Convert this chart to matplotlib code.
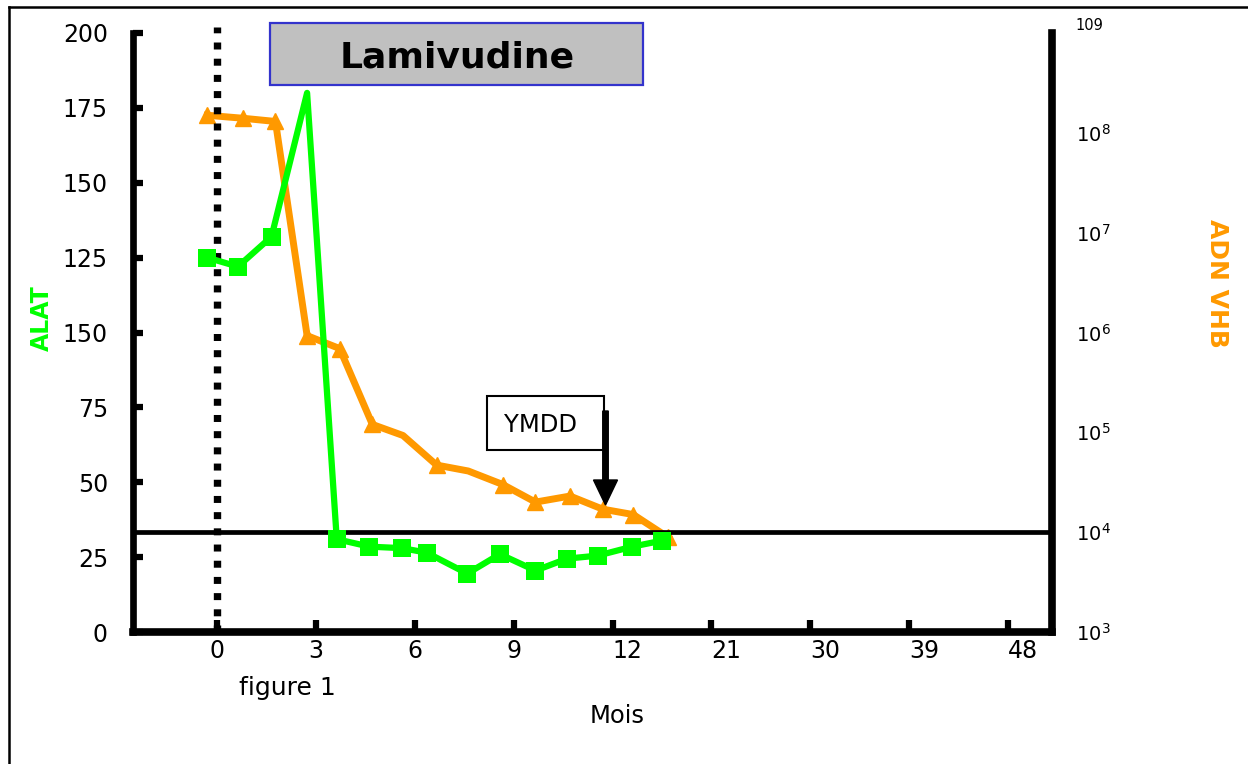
import matplotlib
matplotlib.use("Agg")
import matplotlib.pyplot as plt
import matplotlib.transforms as mtransforms
from matplotlib.patches import Rectangle, FancyArrow
from matplotlib.lines import Line2D
from matplotlib.ticker import NullLocator

# ---------------- data ----------------
month_labels = ["0", "3", "6", "9", "12", "21", "30", "39", "48"]
alat_ticks = [0, 25, 50, 75, 100, 125, 150, 175, 200]
alat_tick_labels = ["0", "25", "50", "75", "150", "125", "150", "175", "200"]
dna_ticks = [1e3, 1e4, 1e5, 1e6, 1e7, 1e8, 1e9]
dna_tick_labels = ["$10^{3}$", "$10^{4}$", "$10^{5}$", "$10^{6}$",
                   "$10^{7}$", "$10^{8}$", "109"]

# x positions on the month scale (in tick slots: 0 -> "0", 1 -> "3", ...)
alat_x = [-0.10, 0.21, 0.55, 0.91, 1.21, 1.54, 1.87, 2.12, 2.53, 2.86,
          3.22, 3.54, 3.85, 4.20, 4.50]
alat_values = [125, 122, 132, 180, 31, 28.5, 28, 26.5, 19.5, 26,
               20.5, 24.5, 25.5, 28.5, 30.5]
alat_marker_idx = [0, 1, 2, 4, 5, 6, 7, 8, 9, 10, 11, 12, 13, 14]

dna_x = [-0.10, 0.26, 0.59, 0.91, 1.24, 1.57, 1.88, 2.22, 2.54, 2.89,
         3.22, 3.57, 3.90, 4.21, 4.56]
dna_values = [1.5e8, 1.4e8, 1.3e8, 9.3e5, 6.9e5, 1.2e5, 9.3e4, 4.7e4,
              4.1e4, 3.0e4, 2.0e4, 2.3e4, 1.7e4, 1.5e4, 8.9e3]
dna_marker_idx = [0, 1, 2, 3, 4, 5, 7, 9, 10, 11, 12, 13, 14]

threshold = 1e4
lamivudine_start = 0

GREEN = "#00FF00"
ORANGE = "#FF9900"

W, H = 1248, 764
fig = plt.figure(figsize=(W / 100, H / 100), dpi=100)
plt.rcParams["font.family"] = ["DejaVu Sans"]


def fx(px):
    return px / W


def fy(py):
    return 1 - py / H


ax = fig.add_axes([fx(133), fy(632), fx(1052) - fx(133), fy(33) - fy(632)])
ax2 = ax.twinx()
ax.set_zorder(3)
ax.patch.set_visible(False)

# ---- right (log) axis: DNA ----
ax2.set_yscale("log")
ax2.set_ylim(1e3, 1e9)
ax2.plot(dna_x, dna_values, color=ORANGE, lw=5, marker="^", ms=12,
         markevery=dna_marker_idx, solid_joinstyle="round", zorder=3)
ax2.axhline(threshold, color="black", lw=3.4, zorder=4)
ax2.set_yticks(dna_ticks)
labs = ax2.set_yticklabels(dna_tick_labels, fontsize=14)
labs[-1].set_fontsize(10.5)
labs[-1].set_va("bottom")
ax2.yaxis.set_minor_locator(NullLocator())
ax2.tick_params(axis="y", length=0, pad=17)
for s in ["top", "left", "bottom"]:
    ax2.spines[s].set_visible(False)
ax2.spines["right"].set_linewidth(5.5)
ax2.set_ylabel("ADN VHB", color=ORANGE, fontsize=18, fontweight="bold",
               rotation=270)
ax2.yaxis.set_label_coords((1217 - 133) / 919, (632 - 283) / 599)
ax2.yaxis.label.set_va("center")
ax2.yaxis.label.set_ha("center")

# ---- left axis: ALAT ----
ax.plot(alat_x, alat_values, color=GREEN, lw=4.5, marker="s", ms=13,
        mew=0, markevery=alat_marker_idx, solid_joinstyle="round", zorder=3)
ax.axvline(lamivudine_start, ymin=0, ymax=1.01, color="black", lw=5.3,
           dashes=(0.95, 1.25), clip_on=False, zorder=2)
ax.set_xlim(-0.851, 8.445)
ax.set_ylim(0, 200)
ax.set_yticks(alat_ticks)
ax.set_yticklabels(alat_tick_labels, fontsize=17)
ax.set_xticks(range(len(month_labels)))
xl = ax.set_xticklabels(month_labels, fontsize=17)
for t in xl:
    if len(t.get_text()) > 1:
        t.set_ha("left")
ax.tick_params(axis="y", direction="in", length=7, width=4.5, pad=18)
ax.tick_params(axis="x", direction="in", length=9, width=4.5, pad=5)
ax.spines["top"].set_visible(False)
ax.spines["right"].set_visible(False)
ax.spines["left"].set_linewidth(4.8)
ax.spines["bottom"].set_linewidth(5.5)
ax.set_ylabel("ALAT", color=GREEN, fontsize=17, fontweight="bold")
ax.yaxis.set_label_coords((42 - 133) / 919, (632 - 318) / 599)
ax.yaxis.label.set_va("center")
ax.yaxis.label.set_ha("center")

# ---- annotations in figure pixels ----
fig.add_artist(Rectangle((fx(270), fy(85)), fx(643) - fx(270), fy(23) - fy(85),
                         transform=fig.transFigure, facecolor="#C0C0C0",
                         edgecolor="#3333CC", lw=1.6, zorder=5))
fig.text(fx(457), fy(68), "Lamivudine", fontsize=26, fontweight="bold",
         ha="center", va="baseline", zorder=6)

fig.add_artist(Rectangle((fx(487), fy(450)), fx(604) - fx(487), fy(396) - fy(450),
                         transform=fig.transFigure, facecolor="white",
                         edgecolor="black", lw=1.5, zorder=5))
fig.text(fx(541), fy(432), "YMDD", fontsize=17.5, ha="center", va="baseline",
         zorder=6)
fig.add_artist(FancyArrow(605.5, H - 411, 0, -(505 - 411), width=5.5,
                          head_width=24, head_length=25,
                          length_includes_head=True, color="black",
                          transform=mtransforms.IdentityTransform(), zorder=6))

fig.text(fx(287.5), fy(695), "figure 1", fontsize=18, ha="center", va="baseline")
fig.text(fx(617), fy(723), "Mois", fontsize=17.5, ha="center", va="baseline")

# outer frame: top and left edges
fig.add_artist(Line2D([fx(9), 1.0], [fy(7), fy(7)], transform=fig.transFigure,
                      color="black", lw=1.8, zorder=1))
fig.add_artist(Line2D([fx(9), fx(9)], [0.0, fy(7)], transform=fig.transFigure,
                      color="black", lw=1.8, zorder=1))

fig.savefig("out.png", dpi=100)
